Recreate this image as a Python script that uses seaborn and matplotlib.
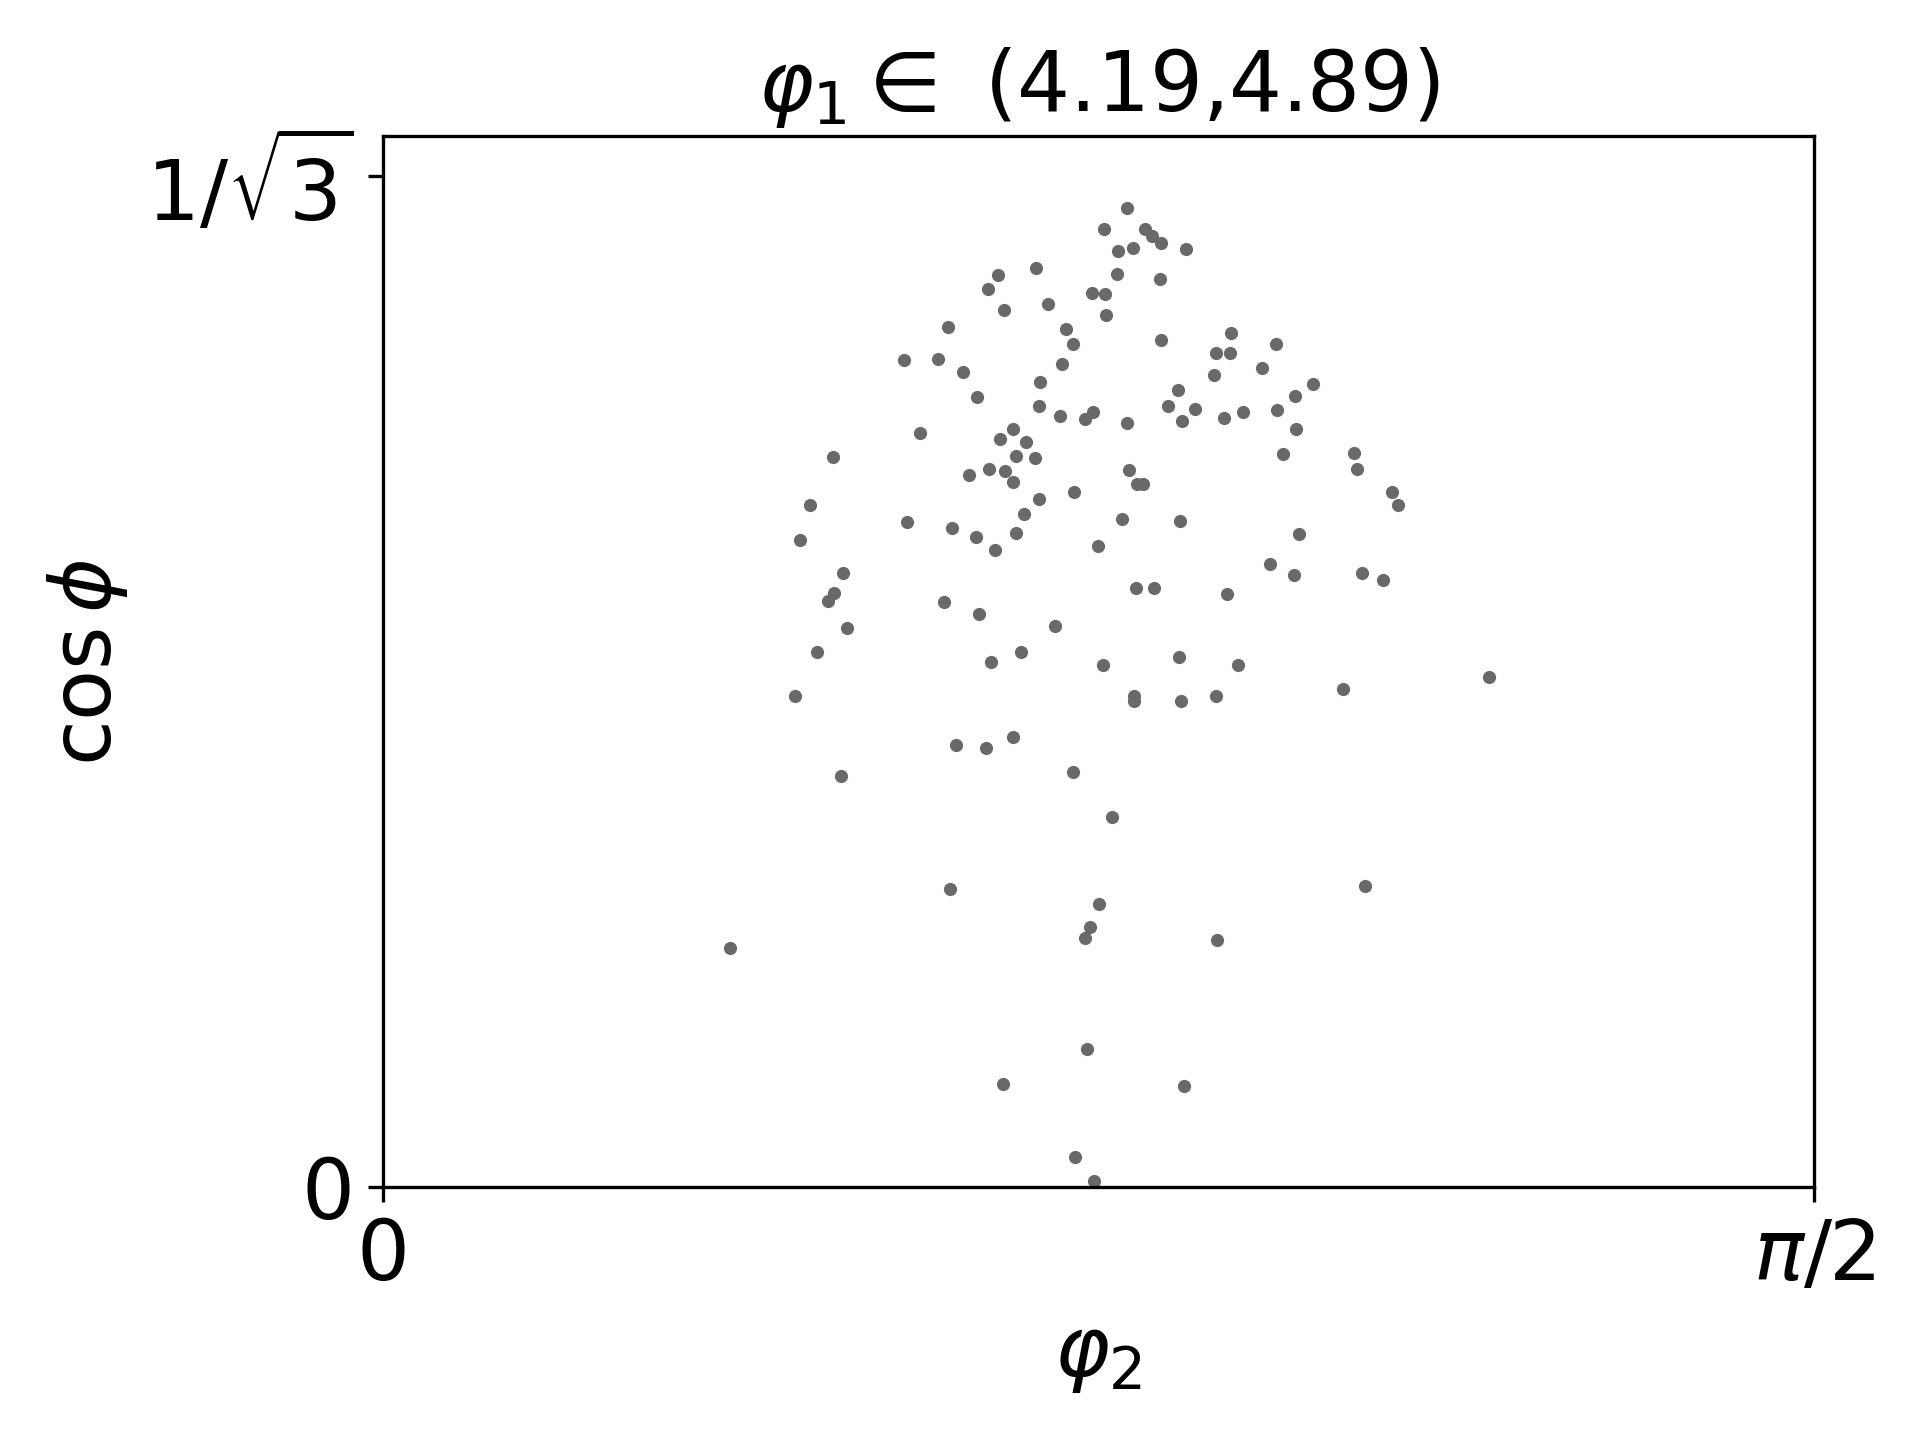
import numpy as np
import pandas as pd
import matplotlib
matplotlib.use("Agg")
import matplotlib.pyplot as plt
import seaborn as sns

# phi_2 values (radians)
phi2 = [
    0.8169, 0.7916, 0.8070, 0.8234, 0.7169, 0.6752, 0.6642, 0.8059, 0.7781, 0.7927,
    0.7301, 0.6815, 0.7935, 0.6203, 0.7499, 0.7576, 0.5720, 0.6094, 0.6368, 0.7455,
    0.7213, 0.6522, 0.7202, 0.7433, 0.7795, 0.7707, 0.8169, 0.5893, 0.6917, 0.6774,
    0.7060, 0.6950, 0.7159, 0.4941, 0.6434, 0.6653, 0.6829, 0.6917, 0.8191, 0.8272,
    0.8344, 0.7587, 0.7202, 0.4688, 0.7038, 0.5753, 0.8114, 0.6247, 0.6511, 0.6950,
    0.6719, 0.7850, 0.4578, 0.5050, 0.4952, 0.4886, 0.6159, 0.6544, 0.8363, 0.8443,
    0.8539, 0.8817, 0.8531, 0.8542, 0.9310, 0.9146, 0.9300, 0.9805, 0.9124, 0.9651,
    1.0211, 0.8729, 1.0013, 0.8619, 0.8915, 0.8773, 0.9234, 0.9442, 0.9816, 1.0024,
    0.9878, 1.0661, 1.0691, 1.1078, 1.1144, 0.8751, 1.0057, 0.9739, 0.9999, 1.0749,
    1.0979, 0.8268, 0.8465, 0.9267, 0.7378, 0.5094, 0.4765, 0.7005, 0.6675, 0.7905,
    0.4523, 0.8246, 0.8246, 0.6291, 0.6621, 0.6917, 0.5029, 0.7576, 0.8004, 0.6225,
    0.7861, 0.7762, 0.7707, 0.3810, 0.8740, 0.9387, 1.2143, 1.0540, 0.8762, 0.9146,
    1.0782, 0.9157, 0.7730, 0.6807, 0.7598, 0.7806, 0.8795,
]

# cos(Phi) values
cos_Phi = [
    0.5591, 0.5471, 0.5345, 0.5362, 0.5248, 0.5208, 0.5128, 0.5214, 0.5105, 0.5100,
    0.5043, 0.5008, 0.4980, 0.4911, 0.4900, 0.4814, 0.4723, 0.4728, 0.4654, 0.4700,
    0.4597, 0.4511, 0.4460, 0.4403, 0.4422, 0.4382, 0.4363, 0.4306, 0.4325, 0.4273,
    0.4254, 0.4175, 0.4163, 0.4169, 0.4066, 0.4100, 0.4085, 0.4026, 0.4095, 0.4011,
    0.4011, 0.3969, 0.3929, 0.3895, 0.3845, 0.3798, 0.3815, 0.3763, 0.3712, 0.3735,
    0.3638, 0.3661, 0.3695, 0.3506, 0.3392, 0.3344, 0.3341, 0.3272, 0.5467, 0.5429,
    0.5391, 0.5357, 0.5185, 0.4837, 0.4877, 0.4759, 0.4763, 0.4814, 0.4637, 0.4677,
    0.4586, 0.4551, 0.4517, 0.4460, 0.4439, 0.4374, 0.4392, 0.4426, 0.4437, 0.4329,
    0.4186, 0.4192, 0.4100, 0.3969, 0.3895, 0.3803, 0.3729, 0.3558, 0.3495, 0.3506,
    0.3466, 0.3421, 0.3421, 0.3386, 0.3204, 0.3192, 0.3055, 0.3055, 0.2998, 0.2981,
    0.2804, 0.2802, 0.2777, 0.2524, 0.2507, 0.2570, 0.2347, 0.2370, 0.2113, 0.1702,
    0.1616, 0.1485, 0.1422, 0.1365, 0.3027, 0.2981, 0.2912, 0.2844, 0.2775, 0.2804,
    0.1719, 0.1411, 0.0788, 0.0588, 0.0173, 0.0036, 0.0577,
]

title_text = r"$\varphi_1 \in$ (4.19,4.89)"
x_label = r"$\varphi_2$"
y_label = r"$\cos\phi$"
x_ticks = [0, np.pi / 2]
x_ticklabels = ["0", r"$\pi/2$"]
y_ticks = [0, 1 / np.sqrt(3)]
y_ticklabels = ["0", r"$1/\sqrt{3}$"]

sns.set_theme(style="ticks")
plt.rcParams.update({
    "font.family": ["DejaVu Sans"],
    "axes.edgecolor": "black",
    "axes.linewidth": 0.8,
    "xtick.color": "black",
    "ytick.color": "black",
    "xtick.major.width": 0.8,
    "ytick.major.width": 0.8,
    "xtick.major.size": 3.5,
    "ytick.major.size": 3.5,
    "text.color": "black",
    "axes.labelcolor": "black",
    "mathtext.fontset": "dejavusans",
})

FS = 20
df = pd.DataFrame({"phi2": phi2, "cosPhi": cos_Phi})

fig = plt.figure(figsize=(6.4, 4.8), dpi=300)
ax = fig.add_subplot(111)
fig.subplots_adjust(left=0.1996, right=0.9448, bottom=0.1755, top=0.9056)

sns.scatterplot(data=df, x="phi2", y="cosPhi", color="#696969", s=10,
                linewidth=0, ax=ax)

ax.set_xlim(0, np.pi / 2)
ax.set_ylim(0, 0.6)
ax.set_xticks(x_ticks)
ax.set_xticklabels(x_ticklabels, fontsize=FS)
ax.set_yticks(y_ticks)
ax.set_yticklabels(y_ticklabels, fontsize=FS)
ax.set_xlabel(x_label, fontsize=FS, labelpad=4)
ax.set_ylabel(y_label, fontsize=FS)
ax.set_title(title_text, fontsize=FS)

fig.savefig("out.png", dpi=300)
